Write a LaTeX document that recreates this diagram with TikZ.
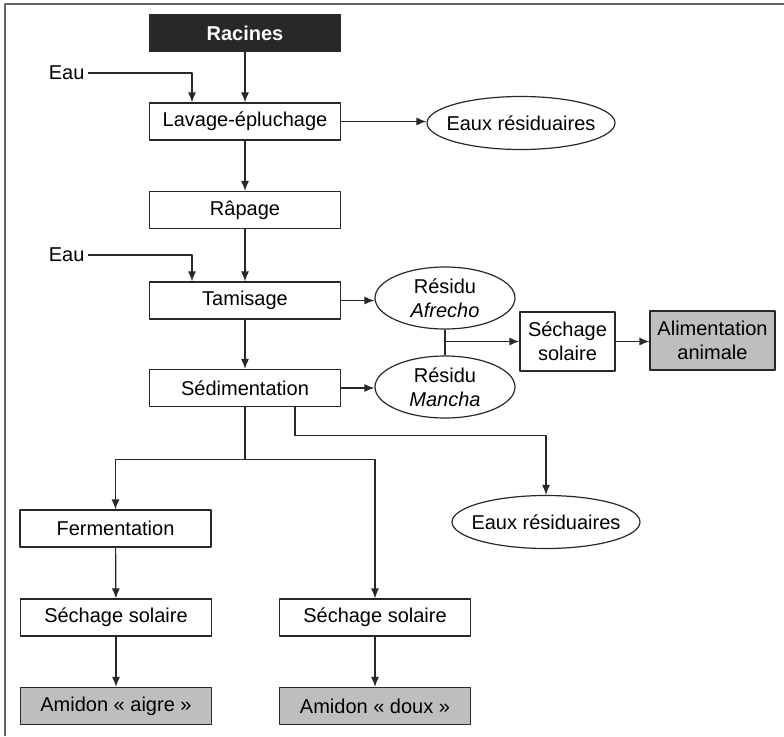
\documentclass[tikz,border=0pt]{standalone}
\usepackage{fontspec}
\setmainfont{Liberation Sans}
\usetikzlibrary{arrows.meta,shapes.geometric}

\definecolor{linegray}{RGB}{40,40,40}
\definecolor{boxgray}{RGB}{190,190,190}
\definecolor{darkbox}{RGB}{40,40,40}

\begin{document}
\begin{tikzpicture}[
        x = 1pt, y = -1pt,
        line join=round,
        every node/.style = {font=\fontsize{20}{24}\selectfont},
        stepbox/.style = {draw=linegray, line width=1.2pt, inner sep=0pt, minimum width=191pt, minimum height=37pt},
        endbox/.style = {stepbox, fill=boxgray},
        waste/.style = {ellipse, draw=linegray, line width=1.2pt, inner xsep=-11pt, inner ysep=0pt, minimum width=188pt, minimum height=53pt},
        residue/.style = {waste, inner xsep=0pt, minimum width=140pt, minimum height=62pt, align=center},
        flow/.style = {draw=linegray, line width=1.2pt, -{Latex[length=10pt,width=8pt]}}
    ]
    \useasboundingbox (0,0) rectangle (784,736);
    \draw[gray!80!black, line width=2pt] (5,736) -- (5,4) -- (784,4);

    % main line
    \node[stepbox, fill=darkbox, text=white, font=\fontsize{20}{24}\selectfont\bfseries] (racines) at (245,33) {Racines};
    \node[stepbox] (lavage) at (245,121.5) {Lavage-épluchage};
    \node[stepbox] (rapage) at (245,210) {Râpage};
    \node[stepbox] (tamisage) at (245,300.5) {Tamisage};
    \node[stepbox] (sedim) at (245,388) {Sédimentation};

    \node[anchor=east] (eau1) at (88,73) {Eau};
    \node[anchor=east] (eau2) at (88,255) {Eau};

    % by-products
    \node[waste] (eaux1) at (521,123) {Eaux résiduaires};
    \node[residue] (afrecho) at (445,298) {Résidu\\\textit{Afrecho}};
    \node[residue] (mancha) at (445,387) {Résidu\\\textit{Mancha}};
    \node[stepbox, minimum width=95pt, minimum height=59pt, align=center] (sechR) at (567.5,341.5) {Séchage\\solaire};
    \node[endbox, minimum width=125pt, minimum height=59pt, align=center] (alim) at (712.5,340.5) {Alimentation\\animale};
    \node[waste] (eaux2) at (546,522) {Eaux résiduaires};

    % starch
    \node[stepbox] (ferm) at (115.5,528.5) {Fermentation};
    \node[stepbox] (sechA) at (116,617.5) {Séchage solaire};
    \node[endbox] (aigre) at (116,706) {Amidon « aigre »};
    \node[stepbox] (sechD) at (375,617.5) {Séchage solaire};
    \node[endbox] (doux) at (375,706) {Amidon « doux »};

    \draw[flow] (racines) -- (lavage);
    \draw[flow] (eau1.east) -| ([xshift=-53pt]lavage.north);
    \draw[flow] (lavage.east) -- (lavage.east -| eaux1.west);
    \draw[flow] (lavage) -- (rapage);
    \draw[flow] (rapage) -- (tamisage);
    \draw[flow] (eau2.east) -| ([xshift=-53pt]tamisage.north);
    \draw[flow] (tamisage.east) -- (tamisage.east -| afrecho.west);
    \draw[flow] (tamisage) -- (sedim);
    \draw[flow] (sedim.east) -- (sedim.east -| mancha.west);

    \draw[draw=linegray, line width=1.2pt] (afrecho.south) -- (mancha.north);
    \draw[flow] (afrecho.south |- sechR.west) -- (sechR.west);
    \draw[flow] (sechR.east) -- (sechR.east -| alim.west);

    \draw[flow] ([xshift=50pt]sedim.south) -- ++(0,28) -| (eaux2.north);
    \draw[draw=linegray, line width=1.2pt] (sedim.south) -- ++(0,52) coordinate (split);
    \draw[flow] (split) -| (ferm.north);
    \draw[flow] (split) -| (sechD.north);

    \draw[flow] (ferm) -- (sechA);
    \draw[flow] (sechA) -- (aigre);
    \draw[flow] (sechD) -- (doux);
\end{tikzpicture}
\end{document}
